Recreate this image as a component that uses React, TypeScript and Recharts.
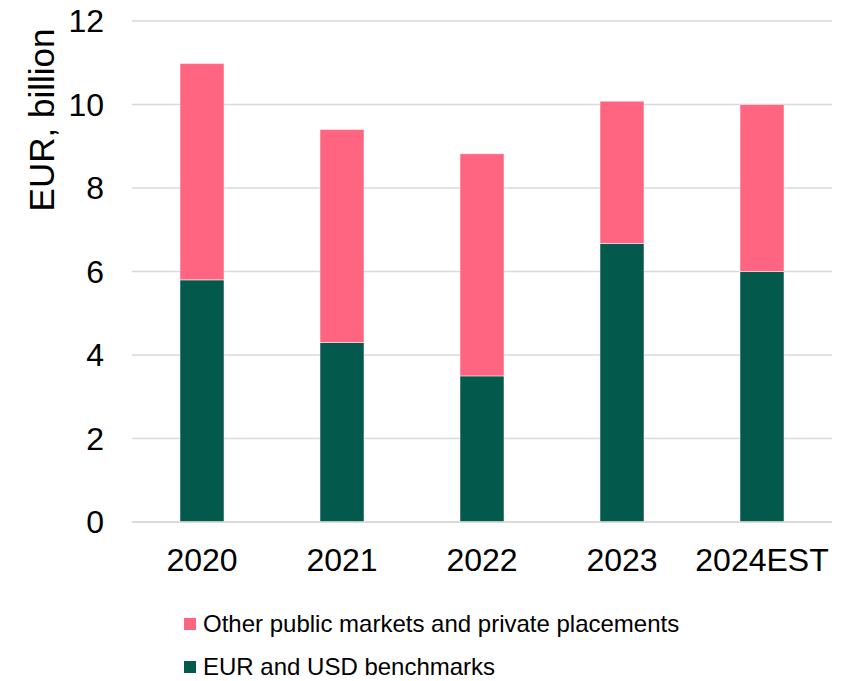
import React from "react";
import { BarChart, Bar, XAxis, YAxis, CartesianGrid, Legend } from "recharts";

const categories = ["2020", "2021", "2022", "2023", "2024EST"];
const benchmarks = [5.8, 4.3, 3.5, 6.67, 6.0];
const otherMarkets = [5.18, 5.1, 5.32, 3.41, 4.0];
const yTicks = [0, 2, 4, 6, 8, 10, 12];

const GREEN_NAME = "EUR and USD benchmarks";
const PINK_NAME = "Other public markets and private placements";
const GREEN = "#02594C";
const PINK = "#FF6580";
const FONT = "'Liberation Sans', Arial, sans-serif";

const data = categories.map((c, i) => ({
  year: c,
  benchmarks: benchmarks[i],
  other: otherMarkets[i],
}));

const legendItems = [
  { name: PINK_NAME, color: PINK },
  { name: GREEN_NAME, color: GREEN },
];

const LegendContent = () => (
  <div style={{ fontFamily: FONT, fontSize: 24, lineHeight: "22px", color: "#000" }}>
    {legendItems.map((it, i) => (
      <div
        key={it.name}
        style={{
          display: "flex",
          alignItems: "center",
          height: 22,
          marginBottom: i === 0 ? 21 : 0,
          whiteSpace: "nowrap",
        }}
      >
        <span
          style={{
            display: "inline-block",
            width: 12,
            height: 12,
            background: it.color,
            marginRight: 7,
          }}
        />
        <span>{it.name}</span>
      </div>
    ))}
  </div>
);

const YLabel = () => (
  <text
    x={0}
    y={0}
    transform="translate(54,120) rotate(-90)"
    textAnchor="middle"
    fontFamily={FONT}
    fontSize={35}
    fill="#000"
  >
    EUR, billion
  </text>
);

export default function App() {
  return (
    <div style={{ position: "absolute", left: 0, top: 0, width: 854, height: 681, background: "#fff" }}>
      <BarChart
        width={854}
        height={681}
        data={data}
        margin={{ top: 21, right: 22, bottom: 99, left: 0 }}
      >
        <CartesianGrid vertical={false} stroke="#d9d9d9" strokeWidth={1.5} />
        <XAxis
          dataKey="year"
          height={60}
          axisLine={{ stroke: "#d9d9d9", strokeWidth: 1.5 }}
          tickLine={false}
          tickSize={0}
          tickMargin={26}
          tick={{ fontFamily: FONT, fontSize: 32, fill: "#000" }}
          interval={0}
        />
        <YAxis
          width={132}
          domain={[0, 12]}
          ticks={yTicks}
          axisLine={false}
          tickLine={false}
          tickSize={0}
          tickMargin={28}
          tick={{ fontFamily: FONT, fontSize: 32, fill: "#000" }}
          label={<YLabel />}
        />
        <Legend
          layout="vertical"
          align="center"
          verticalAlign="middle"
          content={<LegendContent />}
          wrapperStyle={{ position: "absolute", top: 613, left: 184, width: 620 }}
        />
        <Bar
          dataKey="benchmarks"
          name={GREEN_NAME}
          stackId="a"
          fill={GREEN}
          barSize={44}
          stroke="#ffffff"
          strokeWidth={0.5}
          isAnimationActive={false}
        />
        <Bar
          dataKey="other"
          name={PINK_NAME}
          stackId="a"
          fill={PINK}
          barSize={44}
          stroke="#ffffff"
          strokeWidth={0.5}
          isAnimationActive={false}
        />
      </BarChart>
    </div>
  );
}
